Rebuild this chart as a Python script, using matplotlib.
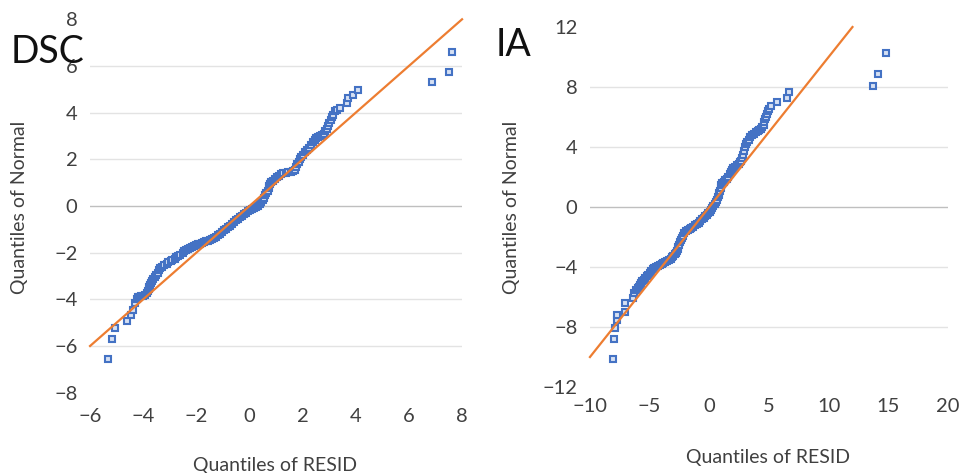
import matplotlib
matplotlib.use("Agg")
import matplotlib.pyplot as plt

plt.rcParams['font.family'] = ['Lato', 'DejaVu Sans']

# ---- DSC panel: x = quantile of RESID, y = quantile of Normal ----
dsc_resid = [-5.31, -5.16, -5.06, -4.62, -4.46, -4.39, -4.31,
             -4.24, -4.20, -4.15, -4.08, -4.00, -3.93, -3.87, -3.83, -3.80, -3.78,
             -3.75, -3.72, -3.68, -3.62, -3.55, -3.50, -3.45, -3.41, -3.37, -3.28,
             -3.20, -3.12, -3.05, -2.97, -2.90, -2.82, -2.75, -2.68, -2.60, -2.52,
             -2.45, -2.38, -2.30, -2.22, -2.15, -2.08, -2.00, -1.92, -1.85, -1.78,
             -1.70, -1.62, -1.55, -1.48, -1.40, -1.32, -1.25, -1.18, -1.10, -1.02,
             -0.95, -0.88, -0.80, -0.72, -0.65, -0.58, -0.50, -0.42, -0.35, -0.28,
             -0.20, -0.12, -0.05, 0.02, 0.10, 0.18, 0.25, 0.33, 0.40, 0.45,
             0.50, 0.55, 0.60, 0.64, 0.68, 0.72, 0.75, 0.78, 0.80, 0.88,
             0.95, 1.02, 1.10, 1.19, 1.28, 1.36, 1.45, 1.55, 1.65, 1.70,
             1.75, 1.80, 1.85, 1.90, 1.95, 2.02, 2.10, 2.18, 2.25, 2.33,
             2.40, 2.45, 2.50, 2.58, 2.65, 2.72, 2.80, 2.85, 2.90, 2.95,
             3.00, 3.05, 3.10, 3.15, 3.20, 3.30, 3.41, 3.66, 3.72, 3.91, 4.07,
             6.88, 7.52, 7.61]
dsc_normal = [-6.56, -5.70, -5.24, -4.91, -4.67, -4.46, -4.17,
              -3.98, -3.92, -3.90, -3.86, -3.85, -3.80, -3.74, -3.64, -3.55, -3.46,
              -3.38, -3.29, -3.20, -3.12, -3.05, -2.95, -2.85, -2.75, -2.65, -2.60,
              -2.55, -2.48, -2.42, -2.37, -2.32, -2.26, -2.20, -2.14, -2.08, -2.01,
              -1.95, -1.90, -1.85, -1.80, -1.75, -1.71, -1.68, -1.65, -1.62, -1.58,
              -1.55, -1.51, -1.48, -1.44, -1.40, -1.36, -1.32, -1.26, -1.20, -1.12,
              -1.05, -0.98, -0.92, -0.85, -0.78, -0.70, -0.62, -0.55, -0.48, -0.41,
              -0.35, -0.28, -0.22, -0.18, -0.15, -0.10, -0.05, 0.02, 0.10, 0.17,
              0.25, 0.35, 0.45, 0.55, 0.65, 0.75, 0.85, 0.94, 1.02, 1.09,
              1.15, 1.23, 1.30, 1.35, 1.40, 1.43, 1.45, 1.46, 1.48, 1.56,
              1.65, 1.78, 1.90, 2.00, 2.10, 2.20, 2.30, 2.40, 2.50, 2.62,
              2.75, 2.83, 2.90, 2.95, 3.00, 3.05, 3.10, 3.20, 3.30, 3.42,
              3.55, 3.68, 3.80, 3.92, 4.05, 4.13, 4.19, 4.40, 4.62, 4.76, 4.97,
              5.30, 5.76, 6.61]
dsc_ref = [-6, 8]
dsc_xticks = [-6, -4, -2, 0, 2, 4, 6, 8]
dsc_yticks = [-8, -6, -4, -2, 0, 2, 4, 6, 8]

# ---- IA panel ----
ia_resid = [-8.10, -7.96, -7.90, -7.76, -7.71, -7.07, -7.07, -6.37, -6.31,
            -6.10, -6.00, -5.90, -5.80, -5.70, -5.60, -5.50, -5.38, -5.25, -5.12,
            -5.00, -4.88, -4.75, -4.60, -4.45, -4.30, -4.15, -4.00, -3.85, -3.70,
            -3.55, -3.40, -3.25, -3.12, -3.00, -2.90, -2.80, -2.72, -2.65, -2.60,
            -2.55, -2.48, -2.40, -2.30, -2.20, -2.08, -1.95, -1.80, -1.65, -1.50,
            -1.35, -1.20, -1.05, -0.90, -0.75, -0.60, -0.45, -0.32, -0.20, -0.08,
            0.05, 0.15, 0.25, 0.35, 0.45, 0.55, 0.65, 0.72, 0.80, 0.85,
            0.90, 0.95, 1.00, 1.10, 1.20, 1.32, 1.45, 1.58, 1.70, 1.80,
            1.90, 2.02, 2.15, 2.30, 2.45, 2.58, 2.70, 2.78, 2.85, 2.92,
            3.00, 3.10, 3.20, 3.32, 3.45, 3.60, 3.75, 3.90, 4.05, 4.20,
            4.35, 4.45, 4.55, 4.60, 4.65, 4.72, 4.80, 4.90, 5.00, 5.15,
            5.65, 6.49, 6.71, 13.69, 14.16, 14.81]
ia_normal = [-10.15, -8.82, -8.04, -7.53, -7.20, -6.98, -6.38, -6.09, -5.76,
             -5.55, -5.42, -5.30, -5.17, -5.05, -4.95, -4.85, -4.72, -4.60, -4.50,
             -4.40, -4.27, -4.15, -4.07, -4.00, -3.92, -3.85, -3.78, -3.72, -3.66,
             -3.60, -3.53, -3.45, -3.35, -3.25, -3.15, -3.05, -2.92, -2.80, -2.65,
             -2.50, -2.35, -2.20, -2.05, -1.90, -1.75, -1.60, -1.52, -1.45, -1.38,
             -1.30, -1.21, -1.12, -1.04, -0.95, -0.83, -0.70, -0.60, -0.50, -0.40,
             -0.30, -0.18, -0.05, 0.08, 0.20, 0.35, 0.50, 0.65, 0.80, 0.95,
             1.10, 1.28, 1.45, 1.58, 1.70, 1.78, 1.85, 2.02, 2.20, 2.35,
             2.50, 2.60, 2.70, 2.78, 2.85, 2.97, 3.10, 3.30, 3.50, 3.75,
             4.00, 4.18, 4.35, 4.50, 4.65, 4.78, 4.90, 4.98, 5.05, 5.12,
             5.20, 5.35, 5.50, 5.68, 5.85, 6.02, 6.20, 6.38, 6.55, 6.75,
             7.00, 7.24, 7.69, 8.07, 8.87, 10.24]
ia_ref = [-10, 12]
ia_xticks = [-10, -5, 0, 5, 10, 15, 20]
ia_yticks = [-12, -8, -4, 0, 4, 8, 12]

BLUE = '#4472C4'
ORANGE = '#ED7D31'
TICK_COLOR = '#404040'

fig = plt.figure(figsize=(9.61, 4.73), dpi=100)
ax1 = fig.add_axes([0.0937, 0.1698, 0.3871, 0.7894])
ax2 = fig.add_axes([0.6139, 0.1818, 0.3725, 0.7611])


def style(ax, xticks, yticks, xpad):
    ax.set_xlim(xticks[0], xticks[-1])
    ax.set_ylim(yticks[0], yticks[-1])
    ax.set_xticks(xticks)
    ax.set_yticks(yticks)
    for s in ax.spines.values():
        s.set_visible(False)
    for v in yticks[1:-1]:
        ax.axhline(v, color='#BFBFBF' if v == 0 else '#E3E3E3', lw=1.0, zorder=0)
    ax.tick_params(axis='both', length=0, labelsize=14.5, labelcolor=TICK_COLOR)
    ax.tick_params(axis='y', pad=9)
    ax.tick_params(axis='x', pad=xpad)


for ax, rx, ny, ref, xt, yt, pad in [
        (ax1, dsc_resid, dsc_normal, dsc_ref, dsc_xticks, dsc_yticks, 11),
        (ax2, ia_resid, ia_normal, ia_ref, ia_xticks, ia_yticks, 8)]:
    style(ax, xt, yt, pad)
    ax.plot(rx, ny, linestyle='none', marker='s', markersize=4.4,
            markerfacecolor='#D6E0F3', markeredgecolor=BLUE, markeredgewidth=1.5,
            zorder=2, clip_on=False)
    ax.plot(ref, ref, color=ORANGE, lw=1.6, zorder=3, clip_on=False)

fig.text(275 / 961, 1 - 465 / 473, 'Quantiles of RESID', ha='center', va='center',
         fontsize=14, color=TICK_COLOR)
fig.text(768 / 961, 1 - 457 / 473, 'Quantiles of RESID', ha='center', va='center',
         fontsize=14, color=TICK_COLOR)
fig.text(20 / 961, 1 - 207 / 473, 'Quantiles of Normal', ha='center', va='center',
         rotation=90, fontsize=14, color=TICK_COLOR)
fig.text(512 / 961, 1 - 207 / 473, 'Quantiles of Normal', ha='center', va='center',
         rotation=90, fontsize=14, color=TICK_COLOR)
fig.text(11 / 961, 1 - 52 / 473, 'DSC', ha='left', va='center', fontsize=27,
         color='#111111')
fig.text(496 / 961, 1 - 45 / 473, 'IA', ha='left', va='center', fontsize=27,
         color='#111111')

fig.savefig('out.png', dpi=100)
